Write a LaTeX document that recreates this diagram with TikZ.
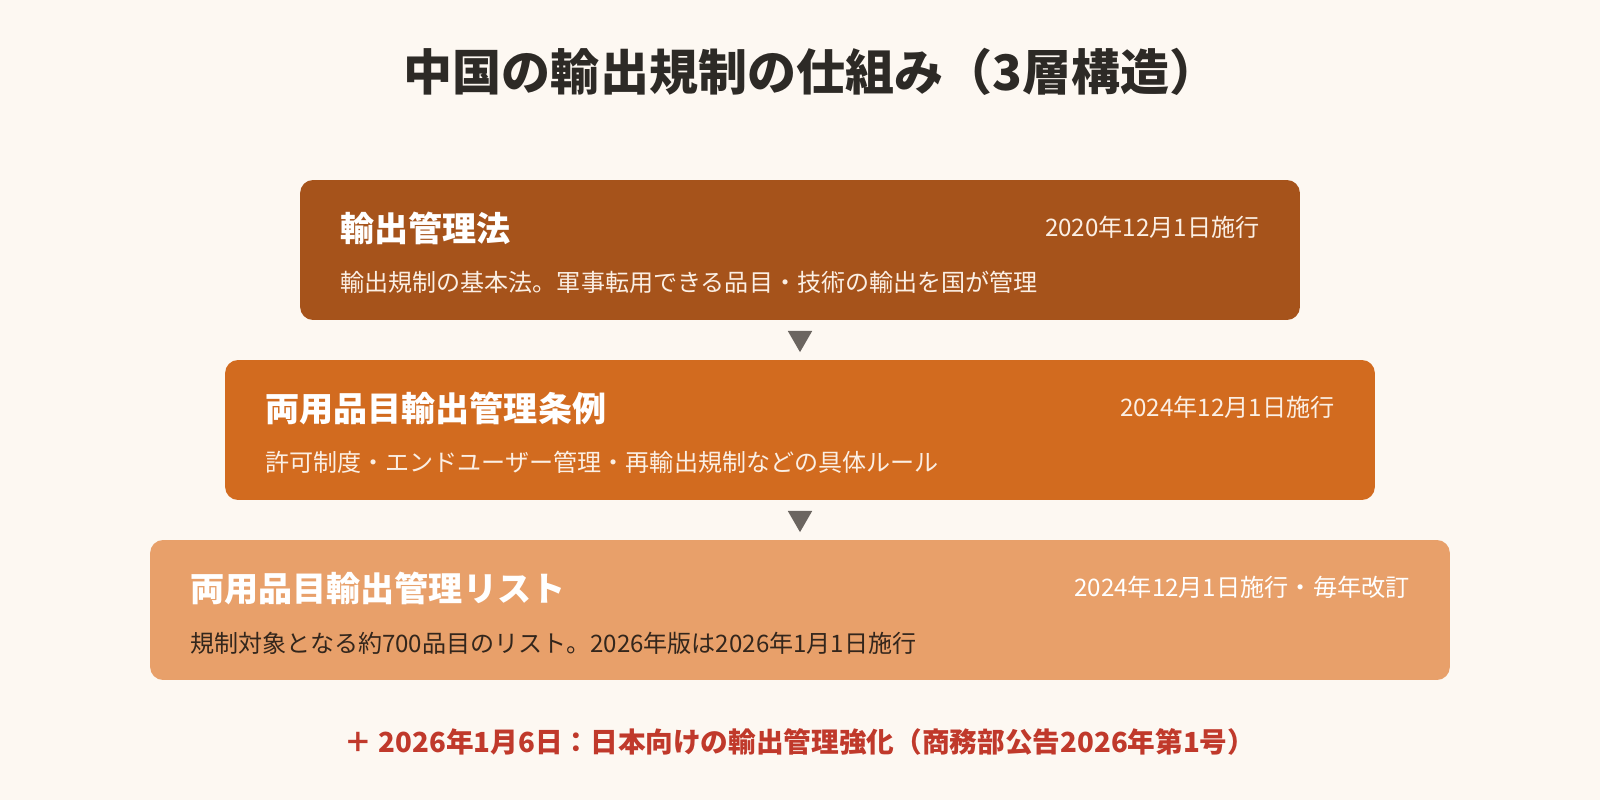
\documentclass[tikz,border=0pt]{standalone}
\usepackage{fontspec}
\setmainfont{Noto Sans CJK JP}
\usetikzlibrary{shapes.geometric}
\definecolor{bgc}{HTML}{FDF8F2}
\definecolor{titlec}{HTML}{2D2A26}
\definecolor{lawc}{HTML}{A6531B}
\definecolor{rulec}{HTML}{D26B1F}
\definecolor{listc}{HTML}{E8A06A}
\definecolor{creamc}{HTML}{FBEFE4}
\definecolor{darktxt}{HTML}{33261C}
\definecolor{arrowc}{HTML}{6B6560}
\definecolor{redc}{HTML}{C0392B}
\tikzset{
	layerbox/.style={rectangle, rounded corners=0.26cm, inner sep=0pt, minimum height=2.8cm},
	headnode/.style={anchor=west, font=\fontsize{19.4}{23}\selectfont\bfseries, text=white, inner sep=0pt},
	datenode/.style={anchor=east, font=\fontsize{13.75}{16}\selectfont, text=creamc, inner sep=0pt},
	descnode/.style={anchor=west, font=\fontsize{13.7}{16}\selectfont, text=creamc, inner sep=0pt},
	downtri/.style={regular polygon, regular polygon sides=3, shape border rotate=180, fill=arrowc, minimum size=0.565cm, inner sep=0pt}
}
\begin{document}
\begin{tikzpicture}[x=0.02cm, y=-0.02cm]
		\useasboundingbox (0,0) rectangle (1600,800);
		\fill[bgc] (0,0) rectangle (1600,800);
		\node[font=\fontsize{27.9}{32}\selectfont\bfseries, text=titlec] at (811,72) (title) {中国の輸出規制の仕組み（3層構造）};
		
		\node[layerbox, fill=lawc, minimum width=20cm] at (800,250) (law) {};
		\node[layerbox, fill=rulec, minimum width=23cm] at (800,430) (rules) {};
		\node[layerbox, fill=listc, minimum width=26cm] at (800,610) (list) {};
		
		\node[downtri] at (800,338) (t1) {};
		\node[downtri] at (800,518) (t2) {};
		
		\node[headnode] at (340,228) (h1) {輸出管理法};
		\node[datenode] at (1260,227) (d1) {2020年12月1日施行};
		\node[descnode] at (340,282) (s1) {輸出規制の基本法。軍事転用できる品目・技術の輸出を国が管理};
		
		\node[headnode] at (265,408) (h2) {両用品目輸出管理条例};
		\node[datenode] at (1335,407) (d2) {2024年12月1日施行};
		\node[descnode] at (265,462) (s2) {許可制度・エンドユーザー管理・再輸出規制などの具体ルール};
		
		\node[headnode] at (190,588) (h3) {両用品目輸出管理リスト};
		\node[datenode, text=white] at (1410,587) (d3) {2024年12月1日施行・毎年改訂};
		\node[descnode, text=darktxt] at (190,643) (s3) {規制対象となる約700品目のリスト。2026年版は2026年1月1日施行};
		
		\node[font=\fontsize{15.74}{19}\selectfont\bfseries, text=redc] at (800,742) (note) {＋ 2026年1月6日：日本向けの輸出管理強化（商務部公告2026年第1号）};
	\end{tikzpicture}
\end{document}
